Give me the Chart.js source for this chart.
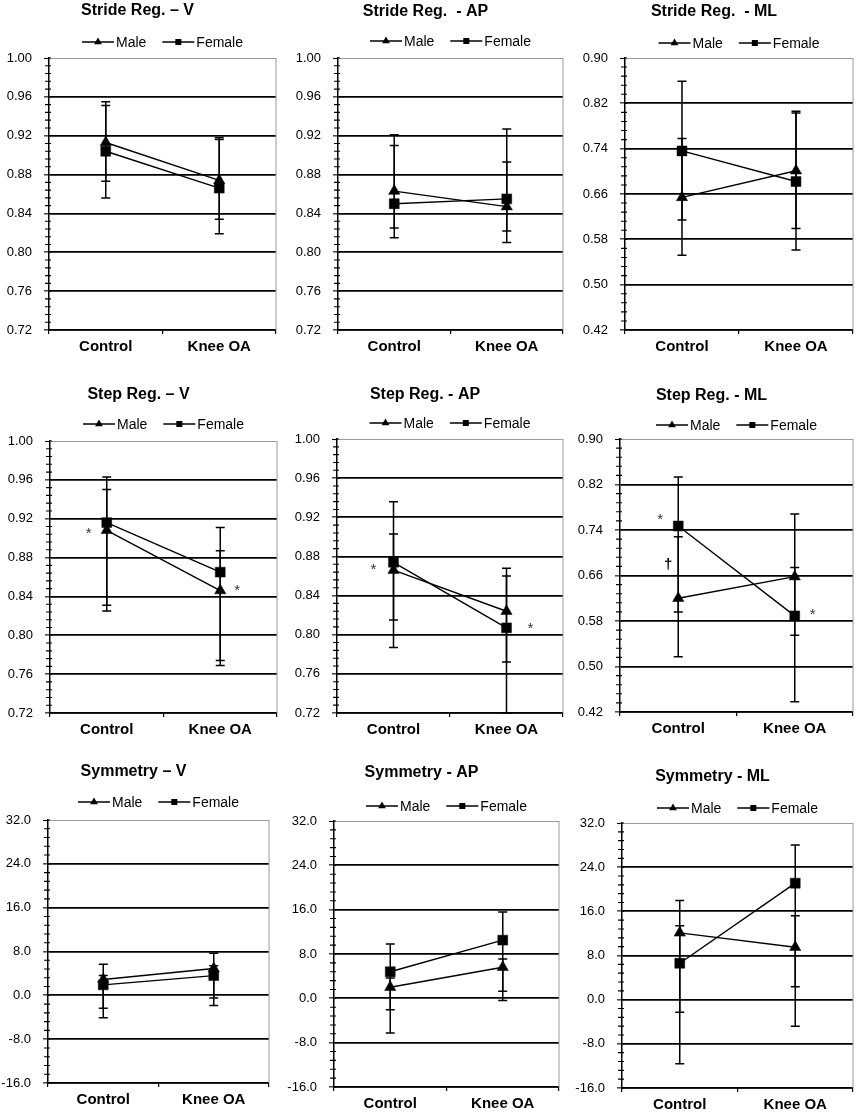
<!DOCTYPE html>
<html>
<head>
<meta charset="utf-8">
<script src="https://cdn.jsdelivr.net/npm/chart.js@4.4.0/dist/chart.umd.min.js"></script>
<style>
  html, body { margin: 0; padding: 0; background: #fff; overflow: hidden; }
  body { width: 856px; height: 1114px; position: relative; }
  .panel { position: absolute; }
</style>
</head>
<body>
<script>
const titles = [
  'Stride Reg. \u2013 V', 'Stride Reg.  - AP', 'Stride Reg.  - ML',
  'Step Reg. \u2013 V', 'Step Reg. - AP', 'Step Reg. - ML',
  'Symmetry \u2013 V', 'Symmetry - AP', 'Symmetry - ML'
];
const categories = ['Control', 'Knee OA'];
const seriesNames = ['Male', 'Female'];

// means, one pair [Control, Knee OA] per panel
const maleMean = [
  [0.913, 0.874], [0.863, 0.847], [0.654, 0.701],
  [0.908, 0.846], [0.866, 0.824], [0.620, 0.658],
  [2.9, 4.9], [2.0, 5.6], [12.1, 9.5]
];
const femaleMean = [
  [0.904, 0.866], [0.850, 0.855], [0.736, 0.682],
  [0.916, 0.865], [0.874, 0.807], [0.747, 0.589],
  [1.9, 3.6], [4.8, 10.5], [6.6, 21.1]
];

// error bar ends
const maleLow = [
  [0.873, 0.834], [0.815, 0.810], [0.552, 0.599],
  [0.831, 0.769], [0.815, 0.772], [0.517, 0.555],
  [-2.35, -0.5], [-2.07, -0.4], [-2.27, -4.8]
];
const maleHigh = [
  [0.955, 0.916], [0.921, 0.893], [0.758, 0.803],
  [0.950, 0.887], [0.903, 0.860], [0.728, 0.674],
  [5.67, 7.7], [3.69, 7.1], [17.95, 15.2]
];
const femaleLow = [
  [0.856, 0.819], [0.825, 0.822], [0.614, 0.561],
  [0.825, 0.774], [0.787, 0.720], [0.596, 0.438],
  [-4.07, -1.85], [-6.27, 1.28], [-11.6, 2.34]
];
const femaleHigh = [
  [0.951, 0.918], [0.910, 0.927], [0.859, 0.806],
  [0.963, 0.911], [0.936, 0.868], [0.833, 0.768],
  [3.64, 5.4], [9.8, 15.6], [13.4, 28.0]
];

// y axes
const yMin = [0.72, 0.72, 0.42, 0.72, 0.72, 0.42, -16, -16, -16];
const yMax = [1.00, 1.00, 0.90, 1.00, 1.00, 0.90, 32, 32, 32];
const yStep = [0.04, 0.04, 0.08, 0.04, 0.04, 0.08, 8, 8, 8];
const yDecimals = [2, 2, 2, 2, 2, 2, 1, 1, 1];

// significance marks: panel, category index, y value, symbol, x shift (px)
const notes = [
  [3, 0, 0.907, '*', -18], [3, 1, 0.849, '*', 17],
  [4, 0, 0.869, '*', -20], [4, 1, 0.809, '*', 24],
  [5, 0, 0.763, '*', -18], [5, 0, 0.681, '\u2020', -10], [5, 1, 0.596, '*', 18]
];

// plot boxes on the page: left, top, right, bottom, title centre y, legend centre y
const frames = [
  [49, 58, 276, 330, 11, 42], [338, 58, 563, 330, 12, 41], [625, 58, 853, 330, 12, 43],
  [50, 441, 277, 713, 395, 424], [337, 439, 563, 713, 395, 423], [620, 439, 853, 712, 396, 425],
  [48, 820, 269, 1083, 772, 802], [334, 821, 559, 1087, 773, 806], [622, 823, 853, 1088, 777, 808]
];

Chart.defaults.font.family = '"Liberation Sans", Arial, sans-serif';
Chart.defaults.color = '#000';

const errorBars = {
  id: 'errorBars',
  beforeDatasetsDraw(chart) {
    const ctx = chart.ctx;
    const y = chart.scales.y;
    ctx.save();
    ctx.strokeStyle = '#000';
    ctx.lineWidth = 1.5;
    chart.data.datasets.forEach((ds, di) => {
      chart.getDatasetMeta(di).data.forEach((pt, i) => {
        const top = y.getPixelForValue(ds.errHigh[i]);
        const bot = y.getPixelForValue(ds.errLow[i]);
        ctx.beginPath();
        ctx.moveTo(pt.x, top); ctx.lineTo(pt.x, bot);
        ctx.moveTo(pt.x - 4.5, top); ctx.lineTo(pt.x + 4.5, top);
        ctx.moveTo(pt.x - 4.5, bot); ctx.lineTo(pt.x + 4.5, bot);
        ctx.stroke();
      });
    });
    ctx.restore();
  }
};

const frameMarks = {
  id: 'frameMarks',
  beforeDatasetsDraw(chart) {
    const ctx = chart.ctx;
    const a = chart.chartArea;
    const y = chart.scales.y;
    ctx.save();
    // grey right edge of the plot
    ctx.strokeStyle = '#9a9a9a';
    ctx.lineWidth = 1;
    ctx.beginPath();
    ctx.moveTo(a.right, a.top); ctx.lineTo(a.right, a.bottom);
    ctx.stroke();
    // minor ticks crossing the y axis
    ctx.strokeStyle = '#000';
    ctx.lineWidth = 1.1;
    const minor = (y.max - y.min) / (y.ticks.length - 1) / 5;
    const n = Math.round((y.max - y.min) / minor);
    ctx.beginPath();
    for (let k = 0; k <= n; k++) {
      const py = y.getPixelForValue(y.min + k * minor);
      if (k % 5 === 0) {
        ctx.moveTo(a.left, py); ctx.lineTo(a.left + 2, py);
      } else {
        ctx.moveTo(a.left - 4, py); ctx.lineTo(a.left + 2, py);
      }
    }
    ctx.stroke();
    ctx.restore();
  }
};

function drawMarker(ctx, style, x, y, r) {
  ctx.beginPath();
  if (style === 'triangle') {
    ctx.moveTo(x, y - r);
    ctx.lineTo(x + r * 0.866, y + r * 0.5);
    ctx.lineTo(x - r * 0.866, y + r * 0.5);
    ctx.closePath();
    ctx.fill();
  } else {
    ctx.fillRect(x - r * 0.75, y - r * 0.75, r * 1.5, r * 1.5);
  }
}

function makePanel(p) {
  const [L, T, R, B, ty, ly] = frames[p];
  const top = ty - 14;
  const w = R - L + 100, h = B - top + 34;
  const box = document.createElement('div');
  box.className = 'panel';
  box.style.left = (L - 50) + 'px';
  box.style.top = top + 'px';
  box.style.width = w + 'px';
  box.style.height = h + 'px';
  const cv = document.createElement('canvas');
  cv.width = w;
  cv.height = h;
  box.appendChild(cv);
  document.body.appendChild(box);

  const keyRow = {
    id: 'keyRow',
    afterDraw(chart) {
      const ctx = chart.ctx;
      const a = chart.chartArea;
      const yy = ly - top;
      ctx.save();
      ctx.font = '14px "Liberation Sans", Arial, sans-serif';
      ctx.textBaseline = 'middle';
      ctx.fillStyle = '#000';
      ctx.strokeStyle = '#000';
      ctx.lineWidth = 1.5;
      const styles = ['triangle', 'rect'];
      const widths = seriesNames.map(s => 34 + ctx.measureText(s).width);
      const total = widths[0] + widths[1] + 16;
      let x = (a.left + a.right) / 2 - total / 2;
      seriesNames.forEach((s, i) => {
        ctx.beginPath();
        ctx.moveTo(x, yy); ctx.lineTo(x + 32, yy);
        ctx.stroke();
        drawMarker(ctx, styles[i], x + 16, yy, i === 0 ? 4.5 : 4);
        ctx.fillText(s, x + 34, yy + 1);
        x += widths[i] + 16;
      });
      ctx.restore();
    }
  };

  const sigMarks = {
    id: 'sigMarks',
    afterDatasetsDraw(chart) {
      const ctx = chart.ctx;
      const xs = chart.scales.x, ys = chart.scales.y;
      ctx.save();
      ctx.textAlign = 'center';
      ctx.textBaseline = 'alphabetic';
      notes.filter(n => n[0] === p).forEach(([, cat, val, sym, dx]) => {
        ctx.font = sym === '*' ? '15px "Liberation Sans", Arial, sans-serif'
                               : 'bold 15px "Liberation Sans", Arial, sans-serif';
        ctx.fillStyle = sym === '*' ? '#333' : '#000';
        const m = ctx.measureText(sym);
        const px = xs.getPixelForValue(cat) + dx;
        const py = ys.getPixelForValue(val) + (m.actualBoundingBoxAscent - m.actualBoundingBoxDescent) / 2;
        ctx.fillText(sym, px, py);
      });
      ctx.restore();
    }
  };

  const isTop = c => c.index === c.scale.ticks.length - 1;

  new Chart(cv, {
    type: 'line',
    data: {
      labels: categories,
      datasets: [{
        label: seriesNames[0],
        data: maleMean[p],
        errLow: maleLow[p],
        errHigh: maleHigh[p],
        borderColor: '#000',
        backgroundColor: '#000',
        borderWidth: 1.4,
        pointStyle: 'triangle',
        pointRadius: 6.5,
        pointBorderWidth: 0.5
      }, {
        label: seriesNames[1],
        data: femaleMean[p],
        errLow: femaleLow[p],
        errHigh: femaleHigh[p],
        borderColor: '#000',
        backgroundColor: '#000',
        borderWidth: 1.4,
        pointStyle: 'rect',
        pointRadius: 7,
        pointBorderWidth: 0.5
      }]
    },
    options: {
      responsive: false,
      animation: false,
      layout: { padding: { left: 0, right: 50, top: 0, bottom: 0 } },
      plugins: {
        legend: { display: false },
        tooltip: { enabled: false },
        title: {
          display: true,
          text: titles[p],
          color: '#000',
          font: { size: 16, weight: 'bold' },
          padding: { top: 4.4, bottom: T - ty - 9.6 }
        }
      },
      scales: {
        x: {
          offset: true,
          ticks: { color: '#000', font: { size: 15, weight: 'bold' }, padding: 4 },
          grid: { offset: true, drawOnChartArea: false, color: '#000', tickLength: 4, lineWidth: 1.2 },
          border: { color: '#000', width: 1.5 },
          afterFit: s => { s.height = 34; }
        },
        y: {
          min: yMin[p],
          max: yMax[p],
          ticks: {
            stepSize: yStep[p],
            color: '#000',
            font: { size: 13 },
            padding: 12,
            callback: v => Number(v).toFixed(yDecimals[p])
          },
          grid: {
            color: c => isTop(c) ? '#9a9a9a' : '#000',
            lineWidth: c => isTop(c) ? 1 : 1.7,
            tickColor: '#000',
            tickWidth: 1.1,
            tickLength: 5
          },
          border: { color: '#000', width: 1.5 },
          afterFit: s => { s.width = 50; }
        }
      }
    },
    plugins: [frameMarks, errorBars, sigMarks, keyRow]
  });
}

for (let p = 0; p < titles.length; p++) makePanel(p);
</script>
</body>
</html>
